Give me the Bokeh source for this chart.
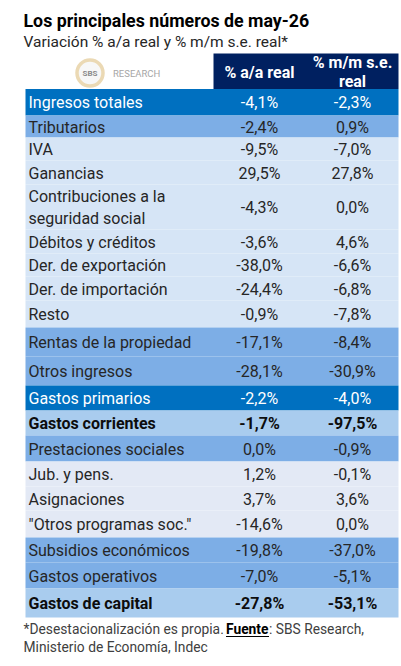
from bokeh.plotting import figure
from bokeh.models import Range1d, ColumnDataSource
from bokeh.embed import file_html
from bokeh.resources import INLINE
from bokeh.core.properties import value

# ---------------- data ----------------
title = "Los principales números de may-26"
subtitle = "Variación % a/a real y % m/m s.e. real*"
col_headers = ["% a/a real", "% m/m s.e.\nreal"]

labels = ["Ingresos totales", "Tributarios", "IVA", "Ganancias",
          "Contribuciones a la\nseguridad social", "Débitos y créditos",
          "Der. de exportación", "Der. de importación", "Resto",
          "Rentas de la propiedad", "Otros ingresos", "Gastos primarios",
          "Gastos corrientes", "Prestaciones sociales", "Jub. y pens.",
          "Asignaciones", "\"Otros programas soc.\"", "Subsidios económicos",
          "Gastos operativos", "Gastos de capital"]
var_aa = [-4.1, -2.4, -9.5, 29.5, -4.3, -3.6, -38.0, -24.4, -0.9, -17.1,
          -28.1, -2.2, -1.7, 0.0, 1.2, 3.7, -14.6, -19.8, -7.0, -27.8]
var_mm = [-2.3, 0.9, -7.0, 27.8, 0.0, 4.6, -6.6, -6.8, -7.8, -8.4,
          -30.9, -4.0, -97.5, -0.9, -0.1, 3.6, 0.0, -37.0, -5.1, -53.1]
row_kind = ["total", "mid", "light", "light", "light", "light", "light",
            "light", "light", "mid", "mid", "total", "bold", "mid", "pale",
            "pale", "pale", "mid", "mid", "bold"]
footnote_a = "*Desestacionalización es propia. "
footnote_b = "Fuente"
footnote_c = ": SBS Research,"
footnote_d = "Ministerio de Economía, Indec"

# ---------------- layout / style ----------------
FONT = "Roboto"
W, H = 401, 666
row_heights = [26.5, 22, 23, 24, 45, 24, 23, 24, 27, 29, 29, 25, 25, 26,
               25, 24, 27, 25, 26, 29]
TABLE_TOP = 88.5
TABLE_L, TABLE_R = 25, 398
COL1_X, COL2_X = 259, 352
LABEL_X = 28
kind_fill = {"total": "#0070C0", "mid": "#7DAEE6", "light": "#D6E5F6",
             "bold": "#A9CCEE", "pale": "#E3E9F5"}
kind_text = {"total": "#FFFFFF", "mid": "#262626", "light": "#262626",
             "bold": "#0D0D0D", "pale": "#262626"}
kind_weight = {"total": "normal", "mid": "normal", "light": "normal",
               "bold": "bold", "pale": "normal"}

def fmt(v):
    return f"{v:.1f}".replace(".", ",") + "%"

p = figure(width=W, height=H, x_range=Range1d(0, W), y_range=Range1d(H, 0),
           output_backend="svg", toolbar_location=None, min_border=0,
           x_axis_type=None, y_axis_type=None, outline_line_color=None)
p.grid.visible = False

# Title / subtitle
p.text(x=[23], y=[20], text=[title], text_font=value(FONT), text_font_size="17.8px",
       text_font_style="bold", text_color="#000000", text_baseline="middle")
p.text(x=[23], y=[41], text=[subtitle], text_font=value(FONT), text_font_size="15.5px",
       text_color="#262626", text_baseline="middle")

# Logo
p.scatter(x=[89.5], y=[72.5], size=26, marker="circle", fill_color="#F7F7F7",
          line_color="#EBD9B4", line_width=3.5)
p.text(x=[89.5], y=[73], text=["SBS"], text_font=value(FONT), text_font_size="8px",
       text_font_style="bold", text_color="#8C8C8C", text_align="center",
       text_baseline="middle")
p.text(x=[112.5], y=[73], text=["RESEARCH"], text_font=value(FONT), text_font_size="9.5px",
       text_color="#A6A6A6", text_baseline="middle")

# Header box
p.quad(left=[213], right=[398], top=[53], bottom=[88.5], fill_color="#002060",
       line_color=None)
p.text(x=[COL1_X], y=[71.5], text=[col_headers[0]], text_font=value(FONT),
       text_font_size="16px", text_font_style="bold", text_color="white",
       text_align="center", text_baseline="middle")
h2 = col_headers[1].split("\n")
p.text(x=[COL2_X, COL2_X], y=[62, 81], text=h2, text_font=value(FONT),
       text_font_size="16px", text_font_style="bold", text_color="white",
       text_align="center", text_baseline="middle")

# Rows
tops, bottoms = [], []
y = TABLE_TOP
for h in row_heights:
    tops.append(y)
    y += h
    bottoms.append(y)

src = ColumnDataSource(dict(
    top=tops, bottom=bottoms,
    left=[TABLE_L] * len(labels), right=[TABLE_R] * len(labels),
    fill=[kind_fill[k] for k in row_kind],
))
p.quad(left="left", right="right", top="top", bottom="bottom", fill_color="fill",
       line_color=None, source=src)

lx, ly, lt, lc, lw = [], [], [], [], []
vx, vy, vt, vc, vw = [], [], [], [], []
for i, lab in enumerate(labels):
    mid = (tops[i] + bottoms[i]) / 2 + 0.5
    k = row_kind[i]
    parts = lab.split("\n")
    n = len(parts)
    for j, part in enumerate(parts):
        lx.append(LABEL_X)
        ly.append(mid + (j - (n - 1) / 2) * 21.7)
        lt.append(part)
        lc.append(kind_text[k])
        lw.append(kind_weight[k])
    for cx, v in ((COL1_X, var_aa[i]), (COL2_X, var_mm[i])):
        vx.append(cx)
        vy.append(mid)
        vt.append(fmt(v))
        vc.append(kind_text[k])
        vw.append(kind_weight[k])

p.text(x="x", y="y", text="t", text_color="c", text_font_style="w",
       text_font=value(FONT), text_font_size="16px", text_baseline="middle",
       source=ColumnDataSource(dict(x=lx, y=ly, t=lt, c=lc, w=lw)))
p.text(x="x", y="y", text="t", text_color="c", text_font_style="w",
       text_font=value(FONT), text_font_size="16px", text_baseline="middle",
       text_align="center",
       source=ColumnDataSource(dict(x=vx, y=vy, t=vt, c=vc, w=vw)))

# Footnote
FN = "13.8px"
p.text(x=[23], y=[628], text=[footnote_a], text_font=value(FONT), text_font_size=FN,
       text_color="#404040", text_baseline="middle")
p.text(x=[225.5], y=[628], text=[footnote_b], text_font=value(FONT), text_font_size=FN,
       text_font_style="bold", text_color="#000000", text_baseline="middle")
p.segment(x0=[225.5], x1=[268.5], y0=[636], y1=[636], line_color="#000000", line_width=1.2)
p.text(x=[268.5], y=[628], text=[footnote_c], text_font=value(FONT), text_font_size=FN,
       text_color="#404040", text_baseline="middle")
p.text(x=[23], y=[646], text=[footnote_d], text_font=value(FONT), text_font_size=FN,
       text_color="#404040", text_baseline="middle")

open("out.html", "w").write(file_html(p, INLINE))
